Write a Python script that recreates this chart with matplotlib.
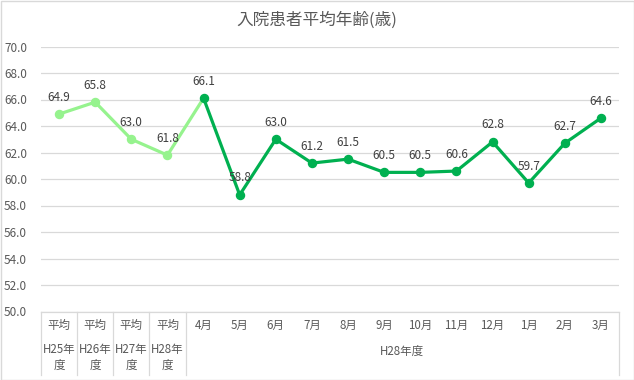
import matplotlib
matplotlib.use("Agg")
import matplotlib.pyplot as plt
from matplotlib.patches import Rectangle
from matplotlib.lines import Line2D

plt.rcParams['font.family'] = ['Noto Sans CJK JP', 'DejaVu Sans']

title = "入院患者平均年齢(歳)"
avg_top = ["平均", "平均", "平均", "平均"]
avg_bottom = ["H25年\n度", "H26年\n度", "H27年\n度", "H28年\n度"]
avg_values = [64.9, 65.8, 63.0, 61.8]
months = ["4月", "5月", "6月", "7月", "8月", "9月", "10月", "11月", "12月", "1月", "2月", "3月"]
month_values = [66.1, 58.8, 63.0, 61.2, 61.5, 60.5, 60.5, 60.6, 62.8, 59.7, 62.7, 64.6]
group_label = "H28年度"
y_ticks = [50, 52, 54, 56, 58, 60, 62, 64, 66, 68, 70]

light = "#96F38E"
dark = "#00B050"
txt = "#595959"
grid = "#D9D9D9"

W, H = 634, 380
fig = plt.figure(figsize=(W / 100, H / 100), dpi=100)
ax = fig.add_axes([41 / W, 1 - 311.5 / H, 578 / W, (311.5 - 46.5) / H])

n_avg = len(avg_values)
n = n_avg + len(months)
x_avg = list(range(n_avg))
x_mon = list(range(n_avg, n))

# light series connects to first month
ax.plot(x_avg + [x_mon[0]], avg_values + [month_values[0]], color=light, lw=2.3,
        solid_capstyle='round', zorder=3)
ax.plot(x_avg, avg_values, 'o', color=light, ms=5.8, zorder=4)
ax.plot(x_mon, month_values, color=dark, lw=2.3, marker='o', ms=5.8,
        solid_joinstyle='round', zorder=5)

for x, v in zip(x_avg + x_mon, avg_values + month_values):
    ax.annotate(f"{v:.1f}", (x, v), xytext=(0, 7.5), textcoords='offset points',
                ha='center', va='bottom', fontsize=8.5, color="#404040", zorder=6)

ax.set_xlim(-0.5, n - 0.5)
ax.set_ylim(50, 70)
ax.set_yticks(y_ticks)
ax.set_yticklabels([f"{t:.1f}" for t in y_ticks], fontsize=8.5, color=txt)
ax.tick_params(axis='y', length=0, pad=10)
ax.tick_params(axis='x', length=0, labelbottom=False)
ax.yaxis.grid(True, color=grid, lw=0.9)
ax.set_axisbelow(True)
for s in ['top', 'right', 'left']:
    ax.spines[s].set_visible(False)
ax.spines['bottom'].set_color(grid)
ax.spines['bottom'].set_linewidth(0.9)

tr = ax.get_xaxis_transform()
px = 72 / 100  # points per pixel

def cat_text(x, dy_px, s, **kw):
    ax.annotate(s, (x, 0), xycoords=tr, xytext=(0, -dy_px * px), textcoords='offset points',
                ha='center', va='center', fontsize=8.3, color=txt, annotation_clip=False, **kw)

for i in range(n_avg):
    cat_text(x_avg[i], 14, avg_top[i])
    top, bot = avg_bottom[i].split("\n")
    cat_text(x_avg[i], 38.5, top)
    cat_text(x_avg[i], 54, bot)
for i, m in enumerate(months):
    cat_text(x_mon[i], 14, m)
cat_text((x_mon[0] + x_mon[-1]) / 2, 40, group_label)

# separator lines in category area
bottom_frac = -63.5 / (311.5 - 46.5)
for xe in [-0.5, 0.5, 1.5, 2.5, 3.5, n - 0.5]:
    ax.add_line(Line2D([xe, xe], [0, bottom_frac], transform=tr, color=grid, lw=0.9,
                       clip_on=False))

fig.text(0.5, 1 - 20 / H, title, ha='center', va='center', fontsize=12, color=txt)

fig.add_artist(Rectangle((0.5 / W, 0.5 / H), 1 - 1 / W, 1 - 1 / H, transform=fig.transFigure,
                         fill=False, edgecolor=grid, lw=1))

fig.savefig("out.png", dpi=100, facecolor='white')
